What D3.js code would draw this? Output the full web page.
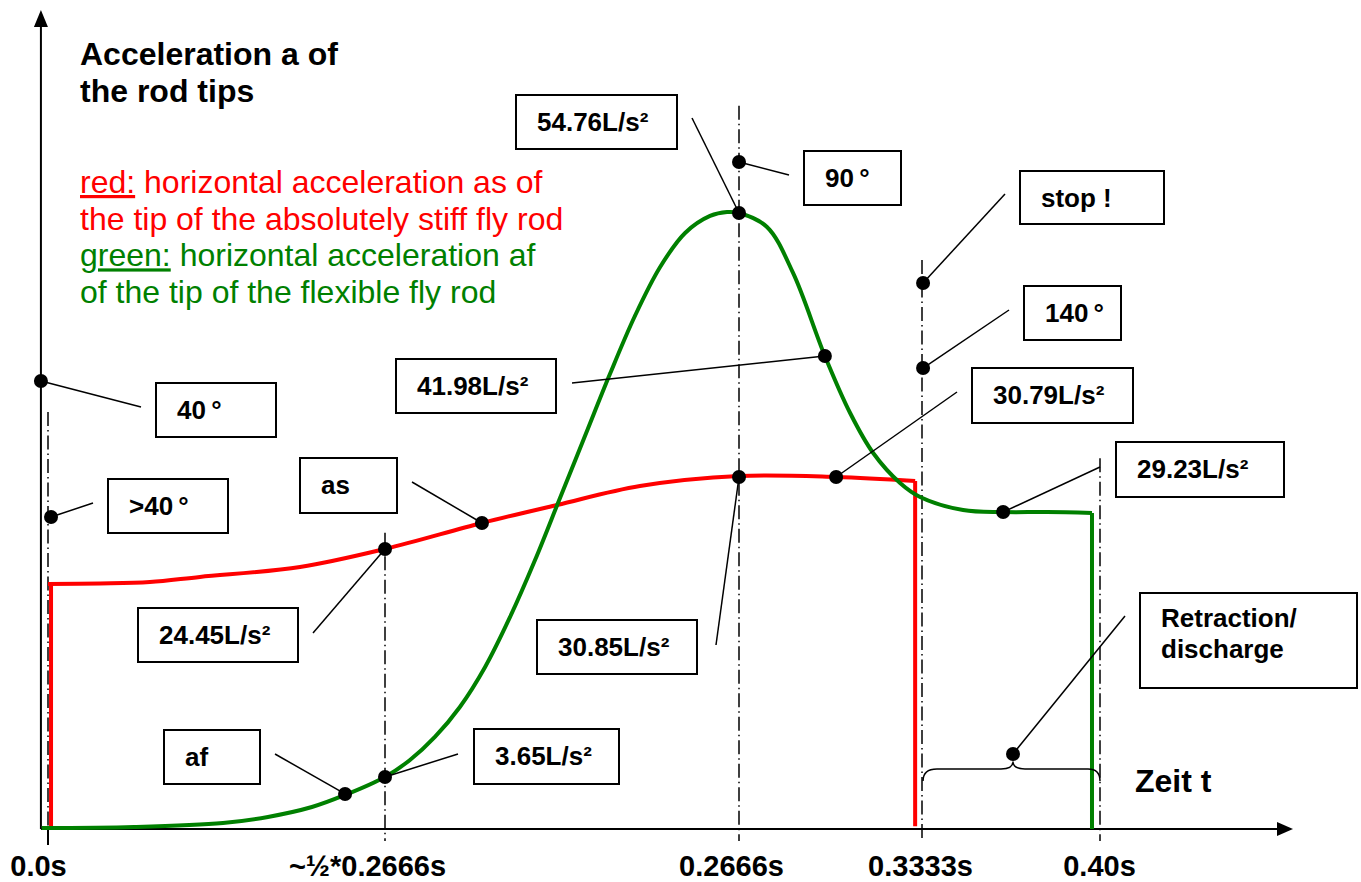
<!DOCTYPE html>
<html><head><meta charset="utf-8">
<script src="https://cdn.jsdelivr.net/npm/d3@7"></script>
<style>
body{margin:0;background:#fff}
svg{display:block}
text{font-family:"Liberation Sans",Arial,Helvetica,sans-serif}
</style>
</head><body>
<svg id="c" width="1361" height="882"></svg>
<script>
// ---------- data (time in s, acceleration in L/s²) ----------
const tickValues = [0, 0.1333, 0.2666, 0.3333, 0.40];
const tickLabels = ["0.0s", "~½*0.2666s", "0.2666s", "0.3333s", "0.40s"];
const guideTops = [37.0, 26.3, 64.2, 50.5, 32.9];

const redStart = 0.0012;
const redT = [0.0000, 0.0206, 0.0403, 0.0601, 0.0997, 0.1333, 0.1698, 0.1981, 0.2293, 0.2666, 0.3020, 0.3308];
const redV = [21.74, 21.79, 21.92, 22.37, 23.25, 24.85, 27.16, 28.76, 30.44, 31.33, 31.24, 30.89];
const redDrop = 0.3308;

const greenT = [-0.0025, 0.0340, 0.0692, 0.0870, 0.1044, 0.1175, 0.1333, 0.1427, 0.1521, 0.1615, 0.1710, 0.1804, 0.1898, 0.1992, 0.2086, 0.2180, 0.2274, 0.2369, 0.2463, 0.2557, 0.2621, 0.2666, 0.2768, 0.2863, 0.2979, 0.3071, 0.3155, 0.3253, 0.3326, 0.3487, 0.3637, 0.3801, 0.3970];
const greenV = [0.09, 0.18, 0.53, 1.07, 1.95, 3.02, 4.62, 6.12, 8.17, 10.83, 14.38, 18.82, 23.87, 29.38, 34.88, 40.38, 45.53, 49.88, 52.90, 54.41, 54.76, 54.67, 53.43, 49.35, 41.98, 36.92, 33.37, 30.71, 29.47, 28.31, 28.13, 28.13, 28.05];
const greenDrop = 0.3970;

const annoLabels = ["40\u2009°", ">40\u2009°", "24.45L/s²", "as", "af", "3.65L/s²", "90\u2009°", "54.76L/s²", "41.98L/s²", "30.85L/s²", "30.79L/s²", "stop !", "140\u2009°", "29.23L/s²", "Retraction/|discharge"];
const annoT = [-0.0028, 0.0012, 0.1333, 0.1698, 0.1175, 0.1333, 0.2666, 0.2666, 0.2979, 0.2666, 0.3020, 0.3337, 0.3337, 0.3637, 0.3674];
const annoV = [39.76, 27.69, 24.85, 27.16, 3.11, 4.62, 59.20, 54.67, 41.98, 31.24, 31.24, 48.46, 40.91, 28.13, 6.66];

const titleLines = ["Acceleration a of", "the rod tips"];
const legendLines = [
  {u: "red:", rest: " horizontal acceleration as of", c: "red"},
  {u: "", rest: "the tip of the absolutely stiff fly rod", c: "red"},
  {u: "green:", rest: " horizontal acceleration af", c: "green"},
  {u: "", rest: "of the tip of the flexible fly rod", c: "green"}
];
const xAxisTitle = "Zeit t";

// ---------- layout ----------
const boxLayout = [ // x, y, w, h, leader end x, leader end y
  [156,383,120,54,141,407],
  [108,479,120,54,93,503],
  [138,608,160,54,313,633],
  [300,458,97,55,412,482],
  [164,730,96,54,275,754],
  [474,729,145,55,458,754],
  [804,151,97,54,789,175],
  [516,95,161,54,692,118],
  [396,359,160,54,572,383],
  [537,620,160,54,716,645],
  [972,368,161,55,957,392],
  [1020,171,144,53,1005,194],
  [1024,286,97,54,1009,310],
  [1116,442,168,55,1100,467],
  [1140,593,217,95,1125,616]
];
const tickDx = [-10, -18, -8, -2, -1];
const COLORS = {red: "#ff0000", green: "#008000"};

const svg = d3.select("#c");
const x = d3.scaleLinear().domain(tickValues).range([48, 385, 739, 922, 1100]);
const y = d3.scaleLinear().domain([0, 54.76]).range([829, 212]);
const x0 = x(-0.0028);  // y-axis position
const y0 = y(0);

// guides (dash-dot)
svg.append("g").selectAll("line").data(tickValues).join("line")
  .attr("x1", d => x(d)).attr("x2", d => x(d))
  .attr("y1", (d,i) => y(guideTops[i]))
  .attr("y2", (d,i) => i === 0 ? y0 : y0 + 12)
  .attr("stroke", "#000").attr("stroke-width", 1.5)
  .attr("stroke-dasharray", "14,4,1.5,4");
// solid tick at 0
svg.append("line").attr("x1", x(0)).attr("x2", x(0)).attr("y1", y0).attr("y2", y0 + 16)
  .attr("stroke", "#000").attr("stroke-width", 2);

// axes
svg.append("line").attr("x1", x0).attr("x2", 1279).attr("y1", y0).attr("y2", y0)
  .attr("stroke", "#000").attr("stroke-width", 2);
svg.append("path").attr("d", `M1293,${y0} L1277,${y0-7} L1277,${y0+7} Z`).attr("fill", "#000");
svg.append("line").attr("x1", x0).attr("x2", x0).attr("y1", y0).attr("y2", 24)
  .attr("stroke", "#000").attr("stroke-width", 2);
svg.append("path").attr("d", `M${x0},10 L${x0-7},27 L${x0+7},27 Z`).attr("fill", "#000");

const ax = svg.append("g").attr("transform", `translate(0,${y0})`)
  .call(d3.axisBottom(x).tickValues(tickValues).tickFormat((d,i) => tickLabels[i]).tickSize(0).tickPadding(26));
ax.select(".domain").remove();
ax.selectAll("text").attr("font-size", 29).attr("font-weight", "bold").attr("fill", "#000")
  .attr("font-family", '"Liberation Sans",Arial,sans-serif')
  .attr("dx", (d,i) => tickDx[i]);

// curves
const lineC = d3.line().x(d => x(d[0])).y(d => y(d[1])).curve(d3.curveCatmullRom.alpha(0.5));
const lineL = d3.line().x(d => x(d[0])).y(d => y(d[1]));
const redPts = redT.map((t,i) => [t, redV[i]]);
const greenPts = greenT.map((t,i) => [t, greenV[i]]);

svg.append("path").attr("d", lineL([[redStart, 0.25], [redStart, redV[0]]]))
  .attr("stroke", COLORS.red).attr("stroke-width", 4).attr("fill", "none");
svg.append("path").attr("d", lineC(redPts))
  .attr("stroke", COLORS.red).attr("stroke-width", 4).attr("fill", "none");
svg.append("path").attr("d", lineL([[redDrop, redV[redV.length-1]], [redDrop, 0.25]]))
  .attr("stroke", COLORS.red).attr("stroke-width", 4).attr("fill", "none");

svg.append("path").attr("d", lineC(greenPts))
  .attr("stroke", COLORS.green).attr("stroke-width", 4).attr("fill", "none");
svg.append("path").attr("d", lineL([[greenDrop, greenV[greenV.length-1]], [greenDrop, 0]]))
  .attr("stroke", COLORS.green).attr("stroke-width", 4).attr("fill", "none");

// brace between 0.3333 and 0.40
(function(){
  const a = x(0.3333) + 1, b = x(0.40), m = x(annoT[14]);
  const yb = y(5.33), ye = y(4.26), yc = y(6.0);
  const p = `M${a},${ye} Q${a},${yb} ${a+14},${yb} L${m-12},${yb} Q${m},${yb} ${m},${yc} Q${m},${yb} ${m+12},${yb} L${b-12},${yb} Q${b},${yb} ${b},${ye}`;
  svg.append("path").attr("d", p).attr("fill", "none").attr("stroke", "#000").attr("stroke-width", 1.5);
})();

// annotations
const g = svg.append("g");
annoLabels.forEach((lab, i) => {
  const [bx, by, bw, bh, lx, ly] = boxLayout[i];
  const dx = x(annoT[i]), dy = y(annoV[i]);
  g.append("line").attr("x1", dx).attr("y1", dy).attr("x2", lx).attr("y2", ly)
    .attr("stroke", "#000").attr("stroke-width", 1.5);
  g.append("circle").attr("cx", dx).attr("cy", dy).attr("r", 7).attr("fill", "#000");
  g.append("rect").attr("x", bx).attr("y", by).attr("width", bw).attr("height", bh)
    .attr("fill", "#fff").attr("stroke", "#000").attr("stroke-width", 2);
  const parts = lab.split("|");
  parts.forEach((p, k) => {
    g.append("text").attr("x", bx + 21).attr("y", parts.length > 1 ? by + 34 + k * 31 : by + 36)
      .attr("font-size", 26).attr("font-weight", "bold").attr("fill", "#000").text(p);
  });
});

// title
titleLines.forEach((t, i) => {
  svg.append("text").attr("x", 80).attr("y", 65 + i * 37)
    .attr("font-size", 32).attr("font-weight", "bold").attr("fill", "#000").text(t);
});
// legend
legendLines.forEach((l, i) => {
  const t = svg.append("text").attr("x", 80).attr("y", 193 + i * 36.7)
    .attr("font-size", 32).attr("fill", COLORS[l.c]);
  if (l.u) t.append("tspan").attr("text-decoration", "underline").text(l.u);
  t.append("tspan").text(l.rest);
});
// x-axis title
svg.append("text").attr("x", 1135).attr("y", 792).attr("font-size", 32).attr("font-weight", "bold")
  .attr("fill", "#000").text(xAxisTitle);
</script>
</body></html>
